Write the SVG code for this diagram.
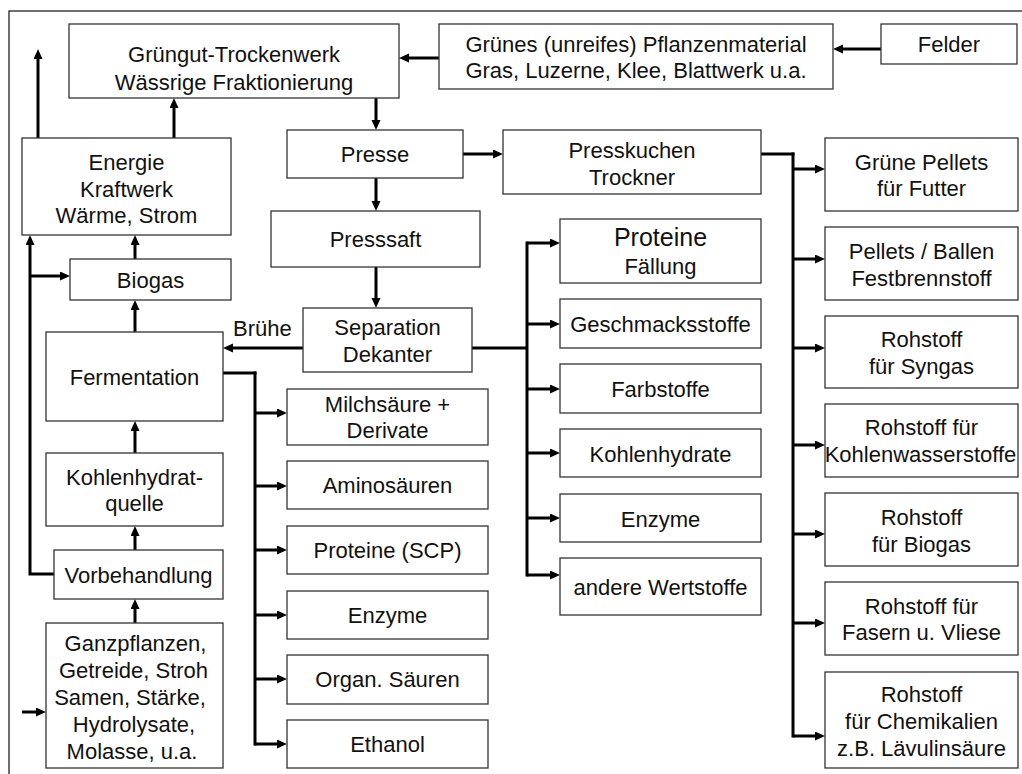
<svg xmlns="http://www.w3.org/2000/svg" width="1022" height="774" viewBox="0 0 1022 774">
  <style>
    .box { fill: #ffffff; stroke: #333333; stroke-width: 1.3; }
    .lbl { font-family: "Liberation Sans", Arial, sans-serif; font-size: 22px; fill: #111111; text-anchor: middle; }
    .wire { fill: none; stroke: #000000; stroke-width: 3; stroke-linejoin: miter; }
    .sq { stroke-linecap: square; }
    .arr { marker-end: url(#ah); }
  </style>
  <defs>
    <marker id="ah" markerUnits="userSpaceOnUse" markerWidth="10" markerHeight="10" refX="3" refY="4.5" orient="auto">
      <path d="M0,0 L10,4.5 L0,9 z" fill="#000000"/>
    </marker>
  </defs>

  <rect width="1022" height="774" fill="#ffffff"/>
  <!-- page frame -->
  <rect x="9" y="11" width="1030" height="780" fill="none" stroke="#222222" stroke-width="1.3"/>

  <!-- connectors -->
  <g id="connectors">
    <line class="wire arr" x1="881" y1="49" x2="840" y2="49"/>
    <line class="wire arr" x1="439" y1="58" x2="406" y2="58"/>
    <line class="wire arr" x1="376" y1="98" x2="376" y2="123"/>
    <line class="wire arr" x1="463" y1="154" x2="496" y2="154"/>
    <line class="wire arr" x1="376" y1="178" x2="376" y2="204"/>
    <line class="wire arr" x1="376" y1="267" x2="376" y2="301"/>
    <line class="wire arr" x1="303" y1="348" x2="230" y2="348"/>
    <line class="wire arr" x1="135" y1="332" x2="135" y2="307"/>
    <line class="wire arr" x1="135" y1="259" x2="135" y2="242"/>
    <line class="wire arr" x1="135" y1="453" x2="135" y2="428"/>
    <line class="wire arr" x1="135" y1="550" x2="135" y2="533"/>
    <line class="wire arr" x1="135" y1="623" x2="135" y2="606"/>
    <line class="wire arr" x1="22" y1="712" x2="39" y2="712"/>
    <line class="wire arr" x1="38" y1="138" x2="38" y2="56"/>
    <line class="wire arr" x1="174" y1="138" x2="174" y2="105"/>

    <!-- return line from pretreatment to power plant and biogas -->
    <path class="wire arr" d="M54,574 H30 V242"/>
    <line class="wire arr" x1="30" y1="276" x2="63" y2="276"/>

    <!-- fermentation products -->
    <line class="wire sq" x1="223" y1="373" x2="255" y2="373"/>
    <line class="wire sq" x1="255" y1="373" x2="255" y2="744"/>
    <line class="wire arr" x1="255" y1="413" x2="280" y2="413"/>
    <line class="wire arr" x1="255" y1="486" x2="280" y2="486"/>
    <line class="wire arr" x1="255" y1="550" x2="280" y2="550"/>
    <line class="wire arr" x1="255" y1="615" x2="280" y2="615"/>
    <line class="wire arr" x1="255" y1="679" x2="280" y2="679"/>
    <line class="wire arr" x1="255" y1="744" x2="280" y2="744"/>

    <!-- separation products -->
    <line class="wire" x1="472" y1="348" x2="527" y2="348"/>
    <line class="wire sq" x1="527" y1="243" x2="527" y2="575"/>
    <line class="wire arr" x1="527" y1="243" x2="553" y2="243"/>
    <line class="wire arr" x1="527" y1="324" x2="553" y2="324"/>
    <line class="wire arr" x1="527" y1="389" x2="553" y2="389"/>
    <line class="wire arr" x1="527" y1="453" x2="553" y2="453"/>
    <line class="wire arr" x1="527" y1="518" x2="553" y2="518"/>
    <line class="wire arr" x1="527" y1="575" x2="553" y2="575"/>

    <!-- press cake products -->
    <line class="wire sq" x1="761" y1="154" x2="793" y2="154"/>
    <line class="wire sq" x1="793" y1="154" x2="793" y2="736"/>
    <line class="wire arr" x1="793" y1="169" x2="818" y2="169"/>
    <line class="wire arr" x1="793" y1="259" x2="818" y2="259"/>
    <line class="wire arr" x1="793" y1="348" x2="818" y2="348"/>
    <line class="wire arr" x1="793" y1="445" x2="818" y2="445"/>
    <line class="wire arr" x1="793" y1="534" x2="818" y2="534"/>
    <line class="wire arr" x1="793" y1="623" x2="818" y2="623"/>
    <line class="wire arr" x1="793" y1="736" x2="818" y2="736"/>

    <text class="lbl" x="233" y="336" style="text-anchor:start">Brühe</text>
  </g>

  <!-- top row -->
  <g id="felder">
    <rect class="box" x="881" y="24" width="136" height="40"/>
    <text class="lbl" x="949" y="52">Felder</text>
  </g>
  <g id="gruenes-material">
    <rect class="box" x="439" y="24" width="394" height="65"/>
    <text class="lbl" x="636" y="52">Grünes (unreifes) Pflanzenmaterial</text>
    <text class="lbl" x="636" y="78">Gras, Luzerne, Klee, Blattwerk u.a.</text>
  </g>
  <g id="trockenwerk">
    <rect class="box" x="69" y="24" width="330" height="74"/>
    <text class="lbl" x="234" y="62">Grüngut-Trockenwerk</text>
    <text class="lbl" x="234" y="90">Wässrige Fraktionierung</text>
  </g>

  <!-- pressing line -->
  <g id="presse">
    <rect class="box" x="287" y="130" width="176" height="48"/>
    <text class="lbl" x="375" y="162">Presse</text>
  </g>
  <g id="presskuchen">
    <rect class="box" x="503" y="130" width="258" height="64"/>
    <text class="lbl" x="632" y="158">Presskuchen</text>
    <text class="lbl" x="632" y="185">Trockner</text>
  </g>
  <g id="presssaft">
    <rect class="box" x="271" y="211" width="209" height="56"/>
    <text class="lbl" x="375.5" y="247">Presssaft</text>
  </g>
  <g id="separation">
    <rect class="box" x="303" y="308" width="169" height="64"/>
    <text class="lbl" x="387.5" y="335">Separation</text>
    <text class="lbl" x="387.5" y="362">Dekanter</text>
  </g>

  <!-- energy and fermentation column -->
  <g id="energie">
    <rect class="box" x="22" y="138" width="209" height="97"/>
    <text class="lbl" x="126.5" y="170">Energie</text>
    <text class="lbl" x="126.5" y="197">Kraftwerk</text>
    <text class="lbl" x="126.5" y="223">Wärme, Strom</text>
  </g>
  <g id="biogas">
    <rect class="box" x="70" y="259" width="161" height="41"/>
    <text class="lbl" x="150.5" y="288">Biogas</text>
  </g>
  <g id="fermentation">
    <rect class="box" x="46" y="332" width="177" height="89"/>
    <text class="lbl" x="134.5" y="385">Fermentation</text>
  </g>
  <g id="kohlenhydratquelle">
    <rect class="box" x="46" y="453" width="177" height="73"/>
    <text class="lbl" x="134.5" y="485">Kohlenhydrat-</text>
    <text class="lbl" x="134.5" y="511">quelle</text>
  </g>
  <g id="vorbehandlung">
    <rect class="box" x="54" y="550" width="169" height="49"/>
    <text class="lbl" x="138.5" y="583">Vorbehandlung</text>
  </g>
  <g id="ganzpflanzen">
    <rect class="box" x="46" y="623" width="177" height="145"/>
    <text class="lbl" x="135.5" y="651">Ganzpflanzen,</text>
    <text class="lbl" x="133.5" y="678">Getreide, Stroh</text>
    <text class="lbl" x="130" y="705">Samen, Stärke,</text>
    <text class="lbl" x="134" y="732">Hydrolysate,</text>
    <text class="lbl" x="132" y="759">Molasse, u.a.</text>
  </g>

  <!-- fermentation products -->
  <g id="milchsaeure">
    <rect class="box" x="287" y="389" width="201" height="56"/>
    <text class="lbl" x="387.5" y="412">Milchsäure +</text>
    <text class="lbl" x="387.5" y="438">Derivate</text>
  </g>
  <g id="aminosaeuren">
    <rect class="box" x="287" y="461" width="201" height="48"/>
    <text class="lbl" x="387.5" y="493">Aminosäuren</text>
  </g>
  <g id="proteine-scp">
    <rect class="box" x="287" y="526" width="201" height="48"/>
    <text class="lbl" x="387.5" y="558">Proteine (SCP)</text>
  </g>
  <g id="enzyme-ferm">
    <rect class="box" x="287" y="591" width="201" height="48"/>
    <text class="lbl" x="387.5" y="623">Enzyme</text>
  </g>
  <g id="organ-saeuren">
    <rect class="box" x="287" y="655" width="201" height="49"/>
    <text class="lbl" x="387.5" y="687">Organ. Säuren</text>
  </g>
  <g id="ethanol">
    <rect class="box" x="287" y="720" width="201" height="48"/>
    <text class="lbl" x="387.5" y="752">Ethanol</text>
  </g>

  <!-- separation products -->
  <g id="proteine-faellung">
    <rect class="box" x="560" y="219" width="201" height="64"/>
    <text class="lbl" x="660.5" y="246" style="font-size:25px">Proteine</text>
    <text class="lbl" x="660.5" y="274">Fällung</text>
  </g>
  <g id="geschmacksstoffe">
    <rect class="box" x="560" y="299" width="201" height="49"/>
    <text class="lbl" x="660.5" y="332">Geschmacksstoffe</text>
  </g>
  <g id="farbstoffe">
    <rect class="box" x="560" y="364" width="201" height="49"/>
    <text class="lbl" x="660.5" y="397">Farbstoffe</text>
  </g>
  <g id="kohlenhydrate">
    <rect class="box" x="560" y="429" width="201" height="48"/>
    <text class="lbl" x="660.5" y="462">Kohlenhydrate</text>
  </g>
  <g id="enzyme-sep">
    <rect class="box" x="560" y="494" width="201" height="48"/>
    <text class="lbl" x="660.5" y="527">Enzyme</text>
  </g>
  <g id="andere-wertstoffe">
    <rect class="box" x="560" y="558" width="201" height="57"/>
    <text class="lbl" x="660.5" y="595">andere Wertstoffe</text>
  </g>

  <!-- press cake products -->
  <g id="gruene-pellets">
    <rect class="box" x="825" y="138" width="193" height="73"/>
    <text class="lbl" x="921.5" y="170">Grüne Pellets</text>
    <text class="lbl" x="921.5" y="196">für Futter</text>
  </g>
  <g id="pellets-ballen">
    <rect class="box" x="825" y="227" width="193" height="73"/>
    <text class="lbl" x="921.5" y="259">Pellets / Ballen</text>
    <text class="lbl" x="921.5" y="286">Festbrennstoff</text>
  </g>
  <g id="syngas">
    <rect class="box" x="825" y="316" width="193" height="72"/>
    <text class="lbl" x="921.5" y="347">Rohstoff</text>
    <text class="lbl" x="921.5" y="374">für Syngas</text>
  </g>
  <g id="kohlenwasserstoffe">
    <rect class="box" x="825" y="404" width="193" height="73"/>
    <text class="lbl" x="921.5" y="435">Rohstoff für</text>
    <text class="lbl" x="920.5" y="462">Kohlenwasserstoffe</text>
  </g>
  <g id="rohstoff-biogas">
    <rect class="box" x="825" y="493" width="193" height="73"/>
    <text class="lbl" x="921.5" y="525">Rohstoff</text>
    <text class="lbl" x="921.5" y="552">für Biogas</text>
  </g>
  <g id="fasern">
    <rect class="box" x="825" y="582" width="193" height="73"/>
    <text class="lbl" x="921.5" y="614">Rohstoff für</text>
    <text class="lbl" x="921.5" y="640">Fasern u. Vliese</text>
  </g>
  <g id="chemikalien">
    <rect class="box" x="825" y="672" width="193" height="96"/>
    <text class="lbl" x="921.5" y="702">Rohstoff</text>
    <text class="lbl" x="921.5" y="729">für Chemikalien</text>
    <text class="lbl" x="921.5" y="756">z.B. Lävulinsäure</text>
  </g>
</svg>
